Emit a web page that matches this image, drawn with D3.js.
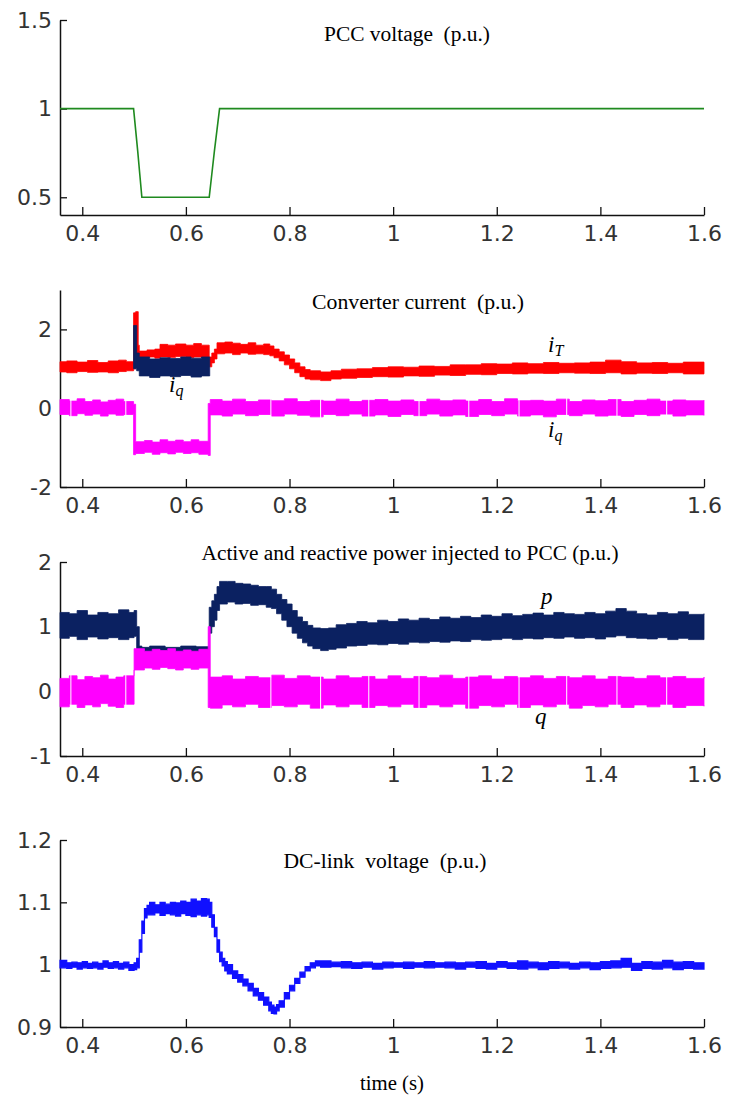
<!DOCTYPE html>
<html>
<head>
<meta charset="utf-8">
<script src="https://cdn.jsdelivr.net/npm/d3@7"></script>
<style>
  body { margin: 0; background: #fff; }
  svg { display: block; }
  .axis .domain { stroke: #111; stroke-width: 1.5; }
  .axis .tick line { stroke: #111; stroke-width: 1.3; }
  .axis text { font-family: "DejaVu Sans", sans-serif; font-size: 22px; fill: #333; }
  .title { font-family: "Liberation Serif", "Times New Roman", serif; font-size: 20px; fill: #000; white-space: pre; }
  .lab { font-family: "Liberation Serif", "Times New Roman", serif; font-style: italic; fill: #000; }
</style>
</head>
<body>
<div id="chart"></div>
<script>
// shared time axis (s)
const timeDomain = [0.357, 1.6];
const timeTicks = [0.4, 0.6, 0.8, 1, 1.2, 1.4, 1.6];

// y ticks of each panel
const pccTicks = [0.5, 1, 1.5];
const curTicks = [-2, 0, 2];
const powTicks = [-1, 0, 1, 2];
const dcTicks = [0.9, 1, 1.1, 1.2];

// PCC voltage [t, v]
const pccVoltage = [
  [0.357, 1], [0.499, 1], [0.503, 0.88], [0.507, 0.76], [0.511, 0.63], [0.515, 0.5],
  [0.645, 0.5], [0.65, 0.63], [0.655, 0.76], [0.66, 0.88], [0.665, 1], [1.6, 1]
];

// converter current i_T, band [t, low, high]
const iTBand = [
  [0.357, 0.92, 1.18], [0.37, 0.9, 1.2], [0.39, 0.93, 1.17], [0.41, 0.91, 1.21], [0.43, 0.92, 1.16],
  [0.45, 0.9, 1.2], [0.47, 0.93, 1.22], [0.485, 0.95, 1.18], [0.499, 1.0, 2.42], [0.503, 1.1, 2.45],
  [0.508, 1.3, 1.6], [0.51, 1.28, 1.45], [0.525, 1.3, 1.48], [0.54, 1.27, 1.5], [0.55, 1.3, 1.62],
  [0.565, 1.29, 1.6], [0.58, 1.31, 1.63], [0.6, 1.28, 1.6], [0.615, 1.3, 1.64], [0.63, 1.29, 1.6],
  [0.645, 1.05, 1.3], [0.65, 1.15, 1.4], [0.655, 1.25, 1.5], [0.66, 1.38, 1.66], [0.675, 1.4, 1.68],
  [0.69, 1.36, 1.65], [0.705, 1.4, 1.62], [0.72, 1.37, 1.66], [0.735, 1.38, 1.6], [0.75, 1.36, 1.63],
  [0.762, 1.33, 1.58], [0.77, 1.28, 1.5], [0.78, 1.2, 1.43], [0.79, 1.1, 1.35], [0.8, 1.0, 1.25],
  [0.81, 0.9, 1.15], [0.82, 0.8, 1.05], [0.83, 0.74, 0.98], [0.84, 0.72, 0.95], [0.86, 0.7, 0.92],
  [0.88, 0.74, 0.95], [0.9, 0.76, 0.99], [0.93, 0.78, 1.0], [0.96, 0.8, 1.03], [0.99, 0.79, 1.05],
  [1.02, 0.82, 1.04], [1.05, 0.81, 1.07], [1.08, 0.84, 1.06], [1.11, 0.83, 1.1], [1.14, 0.86, 1.1],
  [1.17, 0.85, 1.13], [1.2, 0.88, 1.12], [1.23, 0.87, 1.15], [1.26, 0.89, 1.13], [1.29, 0.88, 1.16],
  [1.32, 0.9, 1.14], [1.35, 0.89, 1.15], [1.38, 0.88, 1.17], [1.41, 0.9, 1.22], [1.44, 0.87, 1.18],
  [1.47, 0.89, 1.15], [1.5, 0.88, 1.16], [1.53, 0.9, 1.14], [1.56, 0.87, 1.17], [1.6, 0.88, 1.15]
];

// converter current, dark component visible during the sag
const idBand = [
  [0.499, 1.0, 2.1], [0.505, 0.95, 1.4], [0.51, 0.82, 1.3], [0.53, 0.78, 1.25], [0.55, 0.82, 1.28],
  [0.57, 0.8, 1.26], [0.59, 0.83, 1.3], [0.61, 0.79, 1.27], [0.63, 0.82, 1.3], [0.646, 0.82, 1.3]
];

// converter current i_q
const iqBand = [
  [0.357, -0.16, 0.22], [0.375, -0.19, 0.18], [0.39, -0.14, 0.24], [0.405, -0.18, 0.17], [0.42, -0.15, 0.21],
  [0.435, -0.2, 0.16], [0.45, -0.15, 0.2], [0.465, -0.18, 0.23], [0.48, -0.16, 0.17], [0.499, -1.18, 0.1],
  [0.503, -1.15, -0.85], [0.52, -1.12, -0.82], [0.535, -1.17, -0.86], [0.55, -1.13, -0.8], [0.565, -1.16, -0.84],
  [0.58, -1.12, -0.81], [0.595, -1.15, -0.85], [0.61, -1.13, -0.8], [0.625, -1.17, -0.84], [0.643, -1.2, 0.12],
  [0.647, -0.17, 0.22], [0.67, -0.2, 0.18], [0.69, -0.15, 0.23], [0.715, -0.19, 0.17], [0.74, -0.16, 0.21],
  [0.765, -0.2, 0.19], [0.79, -0.15, 0.24], [0.815, -0.18, 0.17], [0.84, -0.22, 0.2], [0.865, -0.16, 0.18],
  [0.89, -0.19, 0.23], [0.915, -0.15, 0.17], [0.94, -0.2, 0.2], [0.965, -0.17, 0.22], [0.99, -0.21, 0.18],
  [1.015, -0.16, 0.21], [1.04, -0.19, 0.17], [1.065, -0.15, 0.23], [1.09, -0.2, 0.19], [1.115, -0.17, 0.21],
  [1.14, -0.21, 0.18], [1.165, -0.16, 0.22], [1.19, -0.19, 0.17], [1.215, -0.15, 0.24], [1.24, -0.2, 0.19],
  [1.265, -0.17, 0.2], [1.29, -0.22, 0.18], [1.315, -0.16, 0.23], [1.34, -0.19, 0.17], [1.365, -0.15, 0.21],
  [1.39, -0.2, 0.19], [1.415, -0.18, 0.22], [1.44, -0.21, 0.17], [1.465, -0.16, 0.2], [1.49, -0.19, 0.23],
  [1.515, -0.15, 0.18], [1.54, -0.2, 0.21], [1.565, -0.17, 0.19], [1.6, -0.18, 0.2]
];

// active power p
const pBand = [
  [0.357, 0.82, 1.22], [0.375, 0.85, 1.2], [0.39, 0.8, 1.25], [0.41, 0.84, 1.18], [0.43, 0.81, 1.22],
  [0.45, 0.83, 1.2], [0.47, 0.8, 1.26], [0.49, 0.83, 1.22], [0.5, 0.85, 1.25], [0.505, 0.6, 1.0],
  [0.51, 0.55, 0.7], [0.515, 0.45, 0.68], [0.53, 0.42, 0.7], [0.56, 0.4, 0.68], [0.59, 0.42, 0.7],
  [0.62, 0.4, 0.69], [0.645, 0.9, 1.3], [0.65, 1.0, 1.4], [0.655, 1.1, 1.5], [0.66, 1.25, 1.62],
  [0.665, 1.35, 1.7], [0.68, 1.38, 1.7], [0.695, 1.35, 1.67], [0.71, 1.36, 1.66], [0.725, 1.33, 1.64],
  [0.74, 1.34, 1.62], [0.755, 1.3, 1.62], [0.765, 1.28, 1.58], [0.775, 1.2, 1.5], [0.785, 1.1, 1.42],
  [0.795, 1.0, 1.35], [0.805, 0.9, 1.25], [0.815, 0.82, 1.15], [0.825, 0.75, 1.08], [0.835, 0.7, 1.02],
  [0.845, 0.66, 0.98], [0.86, 0.63, 0.97], [0.875, 0.65, 0.98], [0.89, 0.67, 1.03], [0.91, 0.7, 1.05],
  [0.93, 0.71, 1.08], [0.95, 0.73, 1.06], [0.97, 0.72, 1.1], [0.99, 0.74, 1.08], [1.01, 0.73, 1.12],
  [1.03, 0.76, 1.1], [1.05, 0.75, 1.13], [1.07, 0.77, 1.11], [1.09, 0.76, 1.15], [1.11, 0.78, 1.13],
  [1.13, 0.77, 1.16], [1.15, 0.8, 1.14], [1.17, 0.79, 1.18], [1.19, 0.8, 1.16], [1.21, 0.82, 1.2],
  [1.23, 0.8, 1.17], [1.25, 0.82, 1.19], [1.27, 0.81, 1.21], [1.29, 0.83, 1.18], [1.31, 0.82, 1.22],
  [1.33, 0.84, 1.2], [1.35, 0.82, 1.19], [1.37, 0.83, 1.22], [1.39, 0.81, 1.2], [1.41, 0.84, 1.24],
  [1.43, 0.86, 1.28], [1.45, 0.83, 1.24], [1.47, 0.82, 1.2], [1.49, 0.81, 1.18], [1.51, 0.83, 1.22],
  [1.53, 0.8, 1.2], [1.55, 0.82, 1.23], [1.57, 0.8, 1.19], [1.6, 0.81, 1.2]
];

// reactive power q
const qBand = [
  [0.357, -0.24, 0.2], [0.375, -0.2, 0.24], [0.39, -0.25, 0.18], [0.405, -0.21, 0.23], [0.42, -0.24, 0.21],
  [0.435, -0.19, 0.25], [0.45, -0.23, 0.19], [0.465, -0.25, 0.22], [0.48, -0.2, 0.24], [0.5, 0.33, 0.66],
  [0.52, 0.36, 0.62], [0.535, 0.34, 0.65], [0.55, 0.37, 0.63], [0.565, 0.35, 0.66], [0.58, 0.33, 0.62],
  [0.595, 0.36, 0.64], [0.61, 0.34, 0.62], [0.625, 0.36, 0.65], [0.643, -0.25, 1.0], [0.647, -0.26, 0.22],
  [0.67, -0.21, 0.24], [0.69, -0.24, 0.19], [0.715, -0.2, 0.23], [0.74, -0.25, 0.21], [0.765, -0.22, 0.25],
  [0.79, -0.24, 0.2], [0.815, -0.2, 0.24], [0.84, -0.26, 0.22], [0.865, -0.21, 0.19], [0.89, -0.24, 0.24],
  [0.915, -0.2, 0.21], [0.94, -0.25, 0.23], [0.965, -0.22, 0.19], [0.99, -0.24, 0.24], [1.015, -0.2, 0.2],
  [1.04, -0.25, 0.23], [1.065, -0.21, 0.21], [1.09, -0.24, 0.25], [1.115, -0.2, 0.2], [1.14, -0.26, 0.22],
  [1.165, -0.22, 0.24], [1.19, -0.24, 0.19], [1.215, -0.2, 0.23], [1.24, -0.25, 0.21], [1.265, -0.21, 0.24],
  [1.29, -0.24, 0.2], [1.315, -0.2, 0.23], [1.34, -0.26, 0.21], [1.365, -0.22, 0.24], [1.39, -0.24, 0.19],
  [1.415, -0.2, 0.23], [1.44, -0.25, 0.22], [1.465, -0.21, 0.2], [1.49, -0.24, 0.24], [1.515, -0.2, 0.21],
  [1.54, -0.25, 0.23], [1.565, -0.22, 0.2], [1.6, -0.23, 0.22]
];

// DC-link voltage
const dcBand = [
  [0.357, 0.995, 1.007], [0.37, 0.994, 1.003], [0.38, 0.996, 1.004], [0.39, 0.993, 1.003], [0.4, 0.995, 1.005],
  [0.41, 0.994, 1.002], [0.42, 0.995, 1.004], [0.43, 0.993, 1.002], [0.44, 0.996, 1.006], [0.45, 0.994, 1.003],
  [0.46, 0.995, 1.005], [0.47, 0.993, 1.002], [0.48, 0.995, 1.004], [0.49, 0.991, 1.0], [0.5, 0.992, 1.003],
  [0.505, 0.995, 1.01], [0.51, 1.02, 1.04], [0.515, 1.05, 1.07], [0.52, 1.075, 1.09], [0.525, 1.08, 1.095],
  [0.53, 1.08, 1.1], [0.54, 1.083, 1.096], [0.55, 1.079, 1.1], [0.56, 1.082, 1.097], [0.57, 1.08, 1.1],
  [0.58, 1.078, 1.099], [0.59, 1.082, 1.102], [0.6, 1.079, 1.1], [0.61, 1.077, 1.105], [0.62, 1.08, 1.102],
  [0.63, 1.078, 1.106], [0.64, 1.08, 1.105], [0.645, 1.076, 1.1], [0.65, 1.06, 1.08], [0.655, 1.045, 1.06],
  [0.66, 1.02, 1.04], [0.665, 1.005, 1.02], [0.67, 0.998, 1.01], [0.675, 0.99, 1.005], [0.68, 0.985, 1.0],
  [0.69, 0.978, 0.99], [0.7, 0.972, 0.984], [0.71, 0.966, 0.977], [0.72, 0.958, 0.97], [0.73, 0.95, 0.962],
  [0.74, 0.943, 0.955], [0.75, 0.935, 0.948], [0.76, 0.926, 0.94], [0.765, 0.922, 0.935], [0.77, 0.921, 0.932],
  [0.775, 0.926, 0.936], [0.78, 0.932, 0.942], [0.79, 0.945, 0.955], [0.8, 0.958, 0.967], [0.81, 0.97, 0.978],
  [0.82, 0.98, 0.988], [0.83, 0.99, 0.997], [0.84, 0.995, 1.003], [0.85, 0.998, 1.006], [0.86, 0.996, 1.006],
  [0.88, 0.997, 1.004], [0.9, 0.995, 1.005], [0.92, 0.994, 1.003], [0.94, 0.996, 1.004], [0.96, 0.993, 1.002],
  [0.98, 0.995, 1.004], [1.0, 0.996, 1.003], [1.02, 0.994, 1.004], [1.04, 0.996, 1.003], [1.06, 0.995, 1.005],
  [1.08, 0.996, 1.003], [1.1, 0.995, 1.004], [1.12, 0.993, 1.003], [1.14, 0.996, 1.004], [1.16, 0.994, 1.005],
  [1.18, 0.993, 1.002], [1.2, 0.996, 1.005], [1.22, 0.994, 1.003], [1.24, 0.993, 1.006], [1.26, 0.995, 1.004],
  [1.28, 0.992, 1.003], [1.3, 0.994, 1.005], [1.32, 0.995, 1.004], [1.34, 0.993, 1.002], [1.36, 0.995, 1.004],
  [1.38, 0.992, 1.003], [1.4, 0.994, 1.005], [1.42, 0.995, 1.006], [1.44, 0.996, 1.01], [1.46, 0.991, 1.002],
  [1.48, 0.994, 1.005], [1.5, 0.993, 1.004], [1.52, 0.995, 1.007], [1.54, 0.992, 1.004], [1.56, 0.994, 1.005],
  [1.58, 0.993, 1.003], [1.6, 0.994, 1.004]
];

// thin white breaks seen in the noisy traces
const gapTimes = [0.378, 0.484, 0.576, 0.764, 0.86, 0.953, 1.05, 1.146, 1.243, 1.335, 1.432, 1.528];

const W = 743, H = 1097;
const svg = d3.select("#chart").append("svg").attr("width", W).attr("height", H);

const x = d3.scaleLinear().domain(timeDomain).range([60, 704]);

// axes for one panel, returns its y scale
function makePanel(domain, range, ticks) {
  const y = d3.scaleLinear().domain(domain).range(range);
  const g = svg.append("g");
  g.append("g")
    .attr("class", "axis")
    .attr("transform", `translate(0,${range[0]})`)
    .call(d3.axisBottom(x).tickValues(timeTicks).tickSizeInner(-8).tickSizeOuter(0)
      .tickPadding(10).tickFormat(d => String(d)));
  g.append("g")
    .attr("class", "axis")
    .attr("transform", `translate(${x(timeDomain[0])},0)`)
    .call(d3.axisLeft(y).tickValues(ticks).tickSizeInner(-7).tickSizeOuter(0)
      .tickPadding(8).tickFormat(d => String(d)));
  return { g, y };
}

function drawBand(panel, data, color, strokeW) {
  const area = d3.area()
    .x(d => x(d[0]))
    .y0(d => panel.y(d[1]))
    .y1(d => panel.y(d[2]))
    .curve(d3.curveStepAfter);
  panel.g.append("path")
    .datum(data)
    .attr("d", area)
    .attr("fill", color)
    .attr("stroke", color)
    .attr("stroke-width", strokeW || 0.8);
}

function drawGaps(panel, lo, hi) {
  panel.g.selectAll(null)
    .data(gapTimes)
    .enter()
    .append("line")
    .attr("x1", d => x(d)).attr("x2", d => x(d))
    .attr("y1", panel.y(hi)).attr("y2", panel.y(lo))
    .attr("stroke", "#fff")
    .attr("stroke-width", 1);
}

function title(txt, cx, y, len) {
  svg.append("text")
    .attr("class", "title")
    .attr("x", cx).attr("y", y)
    .attr("text-anchor", "middle")
    .attr("textLength", len)
    .attr("lengthAdjust", "spacingAndGlyphs")
    .text(txt);
}

function subLabel(main, sub, xPos, yPos) {
  const t = svg.append("text").attr("class", "lab").attr("x", xPos).attr("y", yPos);
  t.append("tspan").attr("font-size", 23).text(main);
  if (sub) t.append("tspan").attr("font-size", 16).attr("dy", 4).text(sub);
}

// Panel 1: PCC voltage
const p1 = makePanel([0.4, 1.5], [215, 20], pccTicks);
p1.g.append("path")
  .datum(pccVoltage)
  .attr("d", d3.line().x(d => x(d[0])).y(d => p1.y(d[1])))
  .attr("fill", "none")
  .attr("stroke", "#1f8a1f")
  .attr("stroke-width", 1.6);
title("PCC voltage  (p.u.)", 407, 41, 166);

// Panel 2: converter current
const p2 = makePanel([-2, 3], [487, 290], curTicks);
drawBand(p2, iTBand, "#ff0000");
drawBand(p2, idBand, "#0b2161");
drawBand(p2, iqBand, "#ff00ff");
drawGaps(p2, -0.3, 0.3);
title("Converter current  (p.u.)", 418, 309, 212);
subLabel("i", "T", 548, 352);
subLabel("i", "q", 548, 437);
subLabel("i", "q", 169, 392);

// Panel 3: active and reactive power
const p3 = makePanel([-1, 2], [756, 562], powTicks);
drawBand(p3, pBand, "#0b2161");
drawBand(p3, qBand, "#ff00ff");
drawGaps(p3, -0.3, 0.3);
title("Active and reactive power injected to PCC (p.u.)", 410, 560, 417);
subLabel("p", null, 541, 604);
subLabel("q", null, 535, 724);

// Panel 4: DC-link voltage
const p4 = makePanel([0.9, 1.2], [1027, 840], dcTicks);
drawBand(p4, dcBand, "#1010ff", 1.2);
title("DC-link  voltage  (p.u.)", 385, 868, 203);

svg.append("text")
  .attr("class", "title")
  .attr("x", 392).attr("y", 1090)
  .attr("text-anchor", "middle")
  .attr("textLength", 64)
  .attr("lengthAdjust", "spacingAndGlyphs")
  .text("time (s)");
</script>
</body>
</html>
